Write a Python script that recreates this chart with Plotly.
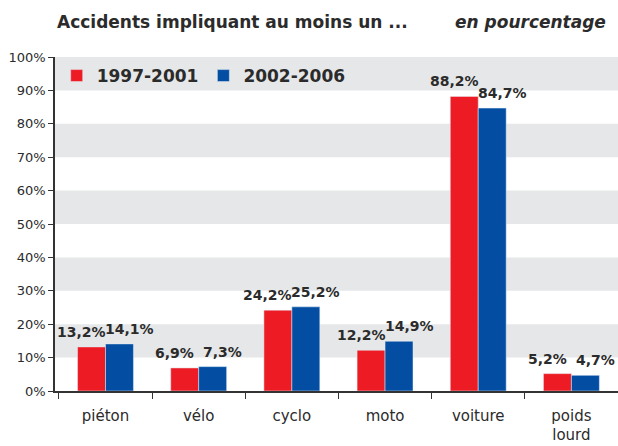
import plotly.graph_objects as go

categories = ["piéton", "vélo", "cyclo", "moto", "voiture", "poids<br>lourd"]
series_names = ["1997-2001", "2002-2006"]
values_1997_2001 = [13.2, 6.9, 24.2, 12.2, 88.2, 5.2]
values_2002_2006 = [14.1, 7.3, 25.2, 14.9, 84.7, 4.7]
y_tick_values = [0, 10, 20, 30, 40, 50, 60, 70, 80, 90, 100]
y_tick_labels = ["0%", "10%", "20%", "30%", "40%", "50%", "60%", "70%", "80%", "90%", "100%"]
band_starts = [10, 30, 50, 70, 90]

RED = "#ed1c24"
BLUE = "#034ea2"
TXT = "#2b2b2b"
FONT = "DejaVu Sans"

def fmt(v):
    return f"{v:.1f}".replace(".", ",") + "%"

fig = go.Figure()
fig.add_bar(x=categories, y=values_1997_2001, name=series_names[0], marker_color=RED)
fig.add_bar(x=categories, y=values_2002_2006, name=series_names[1], marker_color=BLUE)

shapes = []
for b in band_starts:
    shapes.append(dict(type="rect", xref="paper", yref="y", x0=0, x1=1, y0=b, y1=b + 10,
                       fillcolor="#e6e7e8", line_width=0, layer="below"))

annotations = []
for vals, xs in ((values_1997_2001, -24), (values_2002_2006, 24)):
    for c, v in zip(categories, vals):
        annotations.append(dict(x=c, y=v, xref="x", yref="y", text=fmt(v), showarrow=False,
                                xshift=xs, yshift=5, yanchor="bottom",
                                font=dict(family=FONT, size=14, color=TXT, weight="bold")))

annotations.append(dict(x=0, y=1.0, xref="paper", yref="paper", xanchor="left", yanchor="middle",
                        yshift=35, xshift=0, text="Accidents impliquant au moins un ...", showarrow=False,
                        font=dict(family=FONT, size=17, color=TXT, weight="bold")))
annotations.append(dict(x=1.0, y=1.0, xref="paper", yref="paper", xanchor="right", yanchor="middle",
                        yshift=35, xshift=-10, text="<i>en pourcentage</i>", showarrow=False,
                        font=dict(family=FONT, size=17, color=TXT, weight="bold")))

fig.update_layout(
    width=618, height=446,
    margin=dict(l=55, r=0, t=57, b=55, autoexpand=False),
    paper_bgcolor="white", plot_bgcolor="white",
    barmode="group", bargap=0.4, bargroupgap=0,
    showlegend=True,
    legend=dict(orientation="h", x=0.003, xanchor="left", y=0.943, yanchor="middle",
                bgcolor="rgba(0,0,0,0)", font=dict(family=FONT, size=17, color=TXT, weight="bold"),
                itemclick=False),
    font=dict(family=FONT, color=TXT),
    shapes=shapes,
    annotations=annotations,
    xaxis=dict(showline=True, linecolor="#333333", linewidth=1.5, ticks="outside", ticklen=6,
               tickcolor="#333333", tickson="boundaries", showgrid=False, automargin=False,
               ticklabelstandoff=10,
               tickfont=dict(family=FONT, size=15, color=TXT)),
    yaxis=dict(range=[0, 100], tickvals=y_tick_values, ticktext=y_tick_labels, automargin=False,
               showline=True, linecolor="#333333", linewidth=1.5, ticks="outside", ticklen=5,
               tickcolor="#333333", showgrid=False, zeroline=False,
               tickfont=dict(family=FONT, size=13, color=TXT)),
)
fig.write_html("out.html", config={"displayModeBar": False},
               post_script="document.body.style.margin='0';document.body.style.padding='0';")
